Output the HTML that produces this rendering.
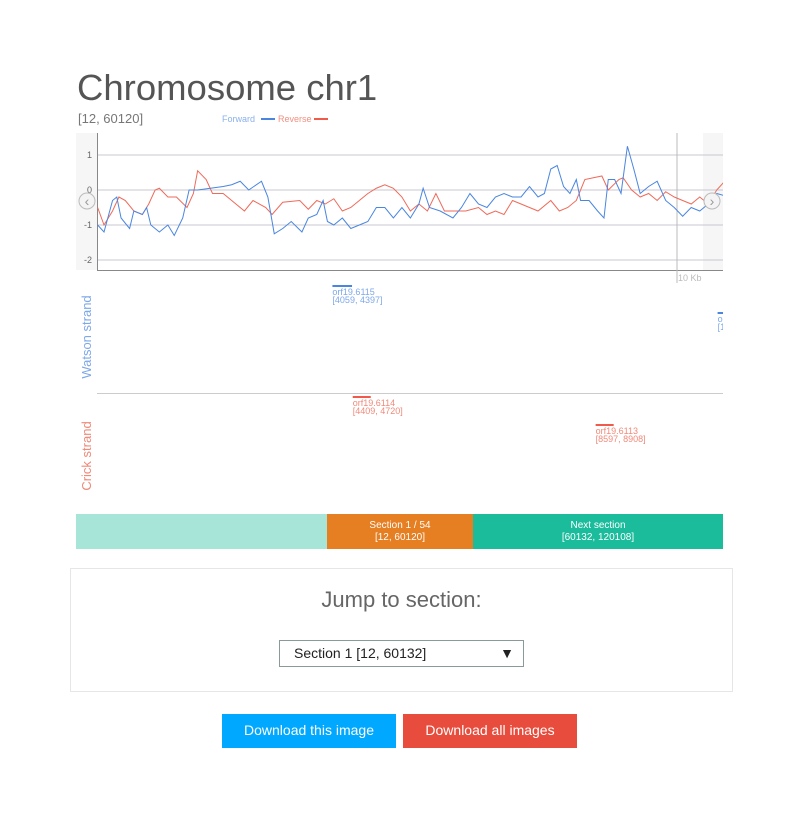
<!DOCTYPE html>
<html><head><meta charset="utf-8"><style>
body{margin:0;width:800px;height:819px;background:#fff;font-family:"Liberation Sans",sans-serif;position:relative;overflow:hidden}
.abs{position:absolute}
h1{position:absolute;left:77px;top:67px;margin:0;font-size:36.5px;font-weight:normal;color:#555;letter-spacing:0}
.btn{position:absolute;top:714px;height:34px;line-height:32px;color:#fff;font-size:14px;text-align:center;border:none}
</style></head><body>
<h1>Chromosome chr1</h1>
<div class="abs" style="left:78px;top:111px;font-size:13px;color:#777">[12, 60120]</div>
<svg class="abs" style="left:0;top:0" width="723" height="560">
<g id="chart"></g>
</svg>
<div class="abs" style="left:70px;top:568px;width:661px;height:122px;border:1px solid #e6e6e6"></div>
<div class="abs" style="left:70px;top:587px;width:663px;text-align:center;font-size:22px;color:#666">Jump to section:</div>
<div class="abs" style="left:279px;top:640px;width:243px;height:25px;border:1px solid #8a9a9a;font-size:14px;line-height:25px;color:#222"><span style="margin-left:14px">Section 1 [12, 60132]</span><span style="position:absolute;right:9px;top:0">▼</span></div>
<div class="btn" style="left:222px;width:174px;background:#00a8ff">Download this image</div>
<div class="btn" style="left:403px;width:174px;background:#e74c3c">Download all images</div>
<script>
const fwdPos=[11,121,268,341,415,562,635,782,855,928,1075,1222,1332,1478,1588,1735,1955,2176,2322,2469,2616,2836,2946,3056,3202,3349,3533,3643,3789,3899,3973,4083,4230,4376,4523,4670,4816,4963,5110,5257,5403,5550,5623,5733,5917,6137,6284,6430,6577,6724,6870,7017,7164,7311,7457,7604,7714,7824,7934,8044,8154,8264,8338,8484,8631,8741,8815,8925,9035,9145,9255,9365,9511,9658,9805,9952,10098,10245,10392,10538,10685,10905];
const fwdVal=[-1.0,-1.2,-0.3,-0.2,-0.8,-1.1,-0.6,-0.7,-0.5,-1.0,-1.2,-1.0,-1.3,-0.8,0.0,0.0,0.05,0.1,0.15,0.25,0.0,0.25,-0.2,-1.25,-1.1,-0.9,-1.2,-0.8,-0.7,-0.3,-0.9,-1.0,-0.8,-1.1,-1.0,-0.9,-0.5,-0.5,-0.8,-0.5,-0.8,-0.4,0.05,-0.5,-0.6,-0.8,-0.5,-0.1,-0.4,-0.5,-0.2,-0.1,-0.2,-0.2,0.1,-0.2,-0.1,0.6,0.7,0.1,-0.1,0.3,-0.3,-0.3,-0.6,-0.8,0.3,0.3,-0.1,1.25,0.6,-0.1,0.1,0.25,-0.3,-0.5,-0.75,-0.5,-0.6,-0.4,-0.1,-0.2];
const revPos=[11,121,268,378,488,635,782,892,1002,1075,1222,1369,1552,1662,1735,1882,1992,2176,2322,2542,2689,2909,3019,3202,3496,3643,3789,3936,4083,4230,4376,4523,4670,4816,4963,5110,5257,5403,5550,5697,5843,5990,6210,6357,6577,6724,6870,7017,7164,7311,7457,7604,7824,7971,8117,8264,8411,8558,8705,8815,8998,9071,9218,9365,9511,9658,9805,9952,10098,10245,10392,10538,10685,10905];
const revVal=[-0.5,-1.0,-0.6,-0.2,-0.3,-0.6,-0.7,-0.4,0.0,0.05,-0.2,-0.2,-0.5,-0.1,0.55,0.3,-0.1,-0.1,-0.3,-0.6,-0.3,-0.5,-0.7,-0.35,-0.3,-0.55,-0.3,-0.4,-0.25,-0.6,-0.5,-0.3,-0.1,0.05,0.15,0.05,-0.2,-0.6,-0.4,-0.6,-0.1,-0.6,-0.6,-0.6,-0.5,-0.7,-0.6,-0.7,-0.3,-0.4,-0.5,-0.6,-0.3,-0.6,-0.5,-0.3,0.3,0.35,0.4,0.0,0.3,0.35,0.0,-0.2,-0.1,-0.3,-0.05,-0.2,-0.3,-0.4,-0.2,-0.4,0.0,0.4];
const yTicks=[1,0,-1,-2];
const genesW=[{name:"orf19.6115",start:4059,end:4397},{name:"o",start:10700,end:10900}];
const genesC=[{name:"orf19.6114",start:4409,end:4720},{name:"orf19.6113",start:8597,end:8908}];
const sx=bp=>97+bp*0.058, sy=v=>190-v*35;
const NS="http://www.w3.org/2000/svg";
const g=document.getElementById('chart');
function el(t,a,txt){const e=document.createElementNS(NS,t);for(const k in a)e.setAttribute(k,a[k]);if(txt!==undefined)e.textContent=txt;g.appendChild(e);return e;}
let e;
e=el('rect',{x:76,y:133,width:21,height:137,fill:'#f6f6f6'});
e=el('rect',{x:703,y:133,width:20,height:137,fill:'#f6f6f6'});
yTicks.forEach(t=>{
 e=el('line',{x1:97,x2:723,y1:sy(t),y2:sy(t),stroke:'#c8c8d0','stroke-width':1});
 e=el('text',{x:92,y:sy(t)+3,'font-size':9,fill:'#666','text-anchor':'end'},String(t));
});
e=el('line',{x1:97.5,x2:97.5,y1:133,y2:271,stroke:'#888'});
e=el('line',{x1:97,x2:723,y1:270.5,y2:270.5,stroke:'#888'});
e=el('line',{x1:sx(10000),x2:sx(10000),y1:133,y2:283,stroke:'#bbb'});
e=el('text',{x:sx(10000)+1,y:281,'font-size':9,fill:'#bbb'},'10 Kb');
e=el('polyline',{points:revPos.map((p,i)=>sx(p)+','+sy(revVal[i])).join(' '),fill:'none',stroke:'#ef6a5a','stroke-width':1});
e=el('polyline',{points:fwdPos.map((p,i)=>sx(p)+','+sy(fwdVal[i])).join(' '),fill:'none',stroke:'#4a86e0','stroke-width':1});
[[87,'‹','scroll-left-button'],[712,'›','scroll-right-button']].forEach(a=>{
 e=el('circle',{cx:a[0],cy:201,r:8,fill:'#f4f4f4',stroke:'#bbb'});
 e=el('text',{x:a[0],y:206,'font-size':14,fill:'#999','text-anchor':'middle'},a[1]);
});
e=el('text',{x:222,y:122,'font-size':9,fill:'#8ab0ec'},'Forward');
e=el('line',{x1:261,x2:275,y1:119,y2:119,stroke:'#4a86e0','stroke-width':2});
e=el('text',{x:278,y:122,'font-size':9,fill:'#f29080'},'Reverse');
e=el('line',{x1:314,x2:328,y1:119,y2:119,stroke:'#ef5a4a','stroke-width':2});
e=el('text',{x:0,y:0,'font-size':13,fill:'#7ea8ea','text-anchor':'middle',transform:'translate(91,337) rotate(-90)'},'Watson strand');
e=el('text',{x:0,y:0,'font-size':13,fill:'#f08a7a','text-anchor':'middle',transform:'translate(91,456) rotate(-90)'},'Crick strand');
e=el('line',{x1:97,x2:723,y1:393.5,y2:393.5,stroke:'#ccc'});
function gene(gn,y,col,tcol){
 e=el('rect',{x:sx(gn.start),y:y,width:sx(gn.end)-sx(gn.start),height:2,fill:col});
 e=el('text',{x:sx(gn.start),y:y+10,'font-size':9,fill:tcol},gn.name);
 e=el('text',{x:sx(gn.start),y:y+18,'font-size':9,fill:tcol},'['+gn.start+', '+gn.end+']');
}
gene(genesW[0],285,'#4a86e0','#7ea8ea');
gene(genesW[1],312,'#4a86e0','#7ea8ea');
gene(genesC[0],396,'#ef5a4a','#f08a7a');
gene(genesC[1],424,'#ef5a4a','#f08a7a');
e=el('rect',{x:76,y:514,width:251,height:35,fill:'#a8e5d9'});
e=el('rect',{x:327,y:514,width:146,height:35,fill:'#e67e22'});
e=el('rect',{x:473,y:514,width:250,height:35,fill:'#1abc9c'});
[[400,'Section 1 / 54','[12, 60120]'],[598,'Next section','[60132, 120108]']].forEach(a=>{
 e=el('text',{x:a[0],y:528,'font-size':10,fill:'#fff','text-anchor':'middle'},a[1]);
 e=el('text',{x:a[0],y:540,'font-size':10,fill:'#fff','text-anchor':'middle'},a[2]);
});
</script>
</body></html>
